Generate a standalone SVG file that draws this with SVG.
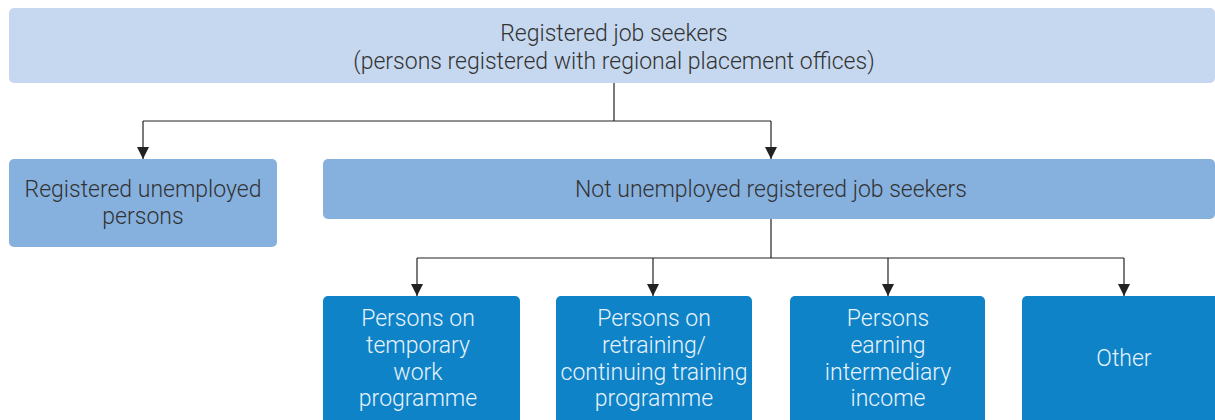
<svg xmlns="http://www.w3.org/2000/svg" width="1215" height="420" viewBox="0 0 1215 420">
<defs>
<marker id="arr" markerWidth="12" markerHeight="12" refX="10" refY="5" orient="auto" markerUnits="userSpaceOnUse" viewBox="0 0 10 10">
<path d="M0,0 L10,5 L0,10 Z" fill="#222"/>
</marker>
<style>
text{font-family:Roboto,"Liberation Sans",sans-serif;font-weight:300;font-size:23px;text-anchor:middle}
.dark{fill:#333}
.light{fill:#e8f2fb}
.l1{fill:#c5d8ef}
.l2{fill:#86b1df}
.l3{fill:#0e83c8}
.conn{fill:none;stroke:#222;stroke-width:1.2}
</style>
</defs>
<rect width="1215" height="420" fill="#fff"/>
<g id="connectors">
<path class="conn" d="M614,83 V121 M143,121 H771"/>
<path class="conn" d="M143,121 V159" marker-end="url(#arr)"/>
<path class="conn" d="M771,121 V159" marker-end="url(#arr)"/>
<path class="conn" d="M771,219 V258 M417,258 H1124"/>
<path class="conn" d="M417,258 V296" marker-end="url(#arr)"/>
<path class="conn" d="M653,258 V296" marker-end="url(#arr)"/>
<path class="conn" d="M888,258 V296" marker-end="url(#arr)"/>
<path class="conn" d="M1124,258 V296" marker-end="url(#arr)"/>
</g>
<g id="node-top">
<rect class="l1" x="9" y="8" width="1206" height="75" rx="5"/>
<text class="dark" x="614" y="41">Registered job seekers</text>
<text class="dark" x="614" y="69">(persons registered with regional placement offices)</text>
</g>
<g id="node-unemployed">
<rect class="l2" x="9" y="159" width="268" height="88" rx="5"/>
<text class="dark" x="143" y="197">Registered unemployed</text>
<text class="dark" x="143" y="224">persons</text>
</g>
<g id="node-not-unemployed">
<rect class="l2" x="323" y="159" width="892" height="60" rx="5"/>
<text class="dark" x="771" y="197">Not unemployed registered job seekers</text>
</g>
<g id="node-temporary">
<rect class="l3" x="323" y="296" width="197" height="130" rx="5"/>
<text class="light" x="418" y="326">Persons on</text>
<text class="light" x="418" y="353">temporary</text>
<text class="light" x="418" y="380">work</text>
<text class="light" x="418" y="406">programme</text>
</g>
<g id="node-retraining">
<rect class="l3" x="556" y="296" width="196" height="130" rx="5"/>
<text class="light" x="654" y="326">Persons on</text>
<text class="light" x="654" y="353">retraining/</text>
<text class="light" x="654" y="380">continuing training</text>
<text class="light" x="654" y="406">programme</text>
</g>
<g id="node-intermediary">
<rect class="l3" x="790" y="296" width="195" height="130" rx="5"/>
<text class="light" x="888" y="326">Persons</text>
<text class="light" x="888" y="353">earning</text>
<text class="light" x="888" y="380">intermediary</text>
<text class="light" x="888" y="406">income</text>
</g>
<g id="node-other">
<rect class="l3" x="1022" y="296" width="200" height="130" rx="5"/>
<text class="light" x="1124" y="366">Other</text>
</g>
</svg>
